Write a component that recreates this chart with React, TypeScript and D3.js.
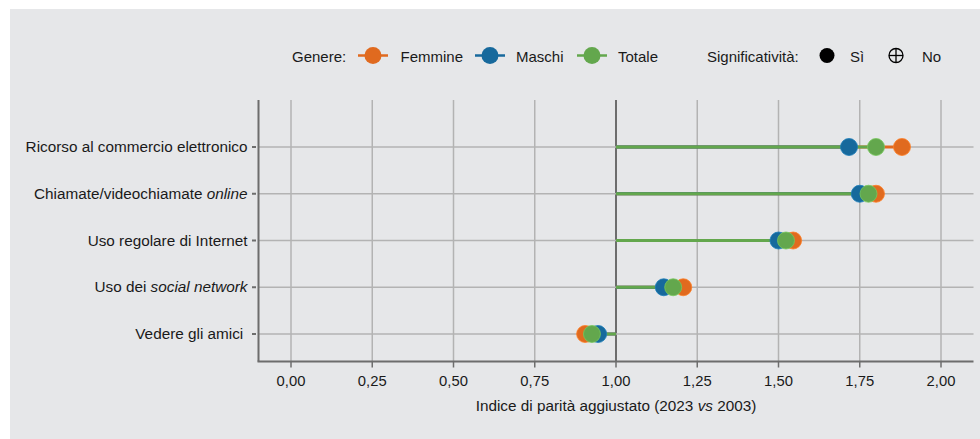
import React from "react";
import * as d3 from "d3";

// categories top -> bottom
const categories = [
  "Ricorso al commercio elettronico",
  "Chiamate/videochiamate online",
  "Uso regolare di Internet",
  "Uso dei social network",
  "Vedere gli amici",
];

// adjusted parity index, 2023 vs 2003
const femmine = [1.88, 1.8, 1.545, 1.207, 0.905];
const maschi = [1.717, 1.75, 1.5, 1.147, 0.945];
const totale = [1.8, 1.777, 1.523, 1.176, 0.926];

const xTicks = [0, 0.25, 0.5, 0.75, 1, 1.25, 1.5, 1.75, 2];

const series = [
  { name: "Femmine", values: femmine, color: "#e06a1f" },
  { name: "Maschi", values: maschi, color: "#17699c" },
  { name: "Totale", values: totale, color: "#63a74d" },
];

const font = "'Liberation Sans', Arial, sans-serif";

// label parts: [text, italic]
const labelParts: Record<string, [string, boolean][]> = {
  "Chiamate/videochiamate online": [["Chiamate/videochiamate ", false], ["online", true]],
  "Uso dei social network": [["Uso dei ", false], ["social network", true]],
  "Vedere gli amici": [["Vedere gli amici\u00a0", false]],
};

export default function App() {
  const W = 980;
  const H = 439;
  const left = 258.5;
  const right = 973.5;
  const top = 100;
  const bottom = 361.5;

  const x = d3.scaleLinear().domain([-0.1, 2.1]).range([left, right]);
  const y = d3.scalePoint<string>().domain(categories).range([147, 334]);
  const fmt = (v: number) => d3.format(".2f")(v).replace(".", ",");

  const grid = "#b3b3b3";
  const axisCol = "#6d6d6d";
  const r = 8.5;

  return (
    <svg
      width={W}
      height={H}
      style={{ position: "absolute", left: 0, top: 0 }}
      fontFamily={font}
    >
      <rect x={0} y={0} width={W} height={H} fill="#fff" />
      <rect x={10} y={9} width={W - 10} height={H - 9} fill="#e6e7e9" />

      {/* legend */}
      <g fontSize={15} fill="#1a1a1a">
        <text x={292} y={61.5}>Genere:</text>
        {series.map((s, i) => {
          const cx = [373, 490, 592][i];
          const tx = [400.5, 516, 618][i];
          return (
            <g key={s.name}>
              <line x1={cx - 15} x2={cx + 15} y1={55.5} y2={55.5} stroke={s.color} strokeWidth={2.5} />
              <circle cx={cx} cy={55.5} r={8.5} fill={s.color} />
              <text x={tx} y={61.5}>{s.name}</text>
            </g>
          );
        })}
        <text x={707} y={61.5}>Significatività:</text>
        <circle cx={827} cy={55.5} r={7.5} fill="#000" />
        <text x={850} y={61.5}>Sì</text>
        <circle cx={896} cy={55.5} r={7} fill="none" stroke="#000" strokeWidth={1.3} />
        <line x1={889} x2={903} y1={55.5} y2={55.5} stroke="#000" strokeWidth={1.3} />
        <line x1={896} x2={896} y1={48.5} y2={62.5} stroke="#000" strokeWidth={1.3} />
        <text x={922} y={61.5}>No</text>
      </g>

      {/* vertical grid */}
      {xTicks.map((t) => (
        <line
          key={t}
          x1={x(t)}
          x2={x(t)}
          y1={top}
          y2={bottom}
          stroke={t === 1 ? axisCol : grid}
          strokeWidth={t === 1 ? 2 : 1.5}
        />
      ))}
      {/* horizontal grid */}
      {categories.map((c) => (
        <line key={c} x1={left} x2={right} y1={y(c)} y2={y(c)} stroke={grid} strokeWidth={1.5} />
      ))}

      {/* axes */}
      <line x1={left} x2={left} y1={top} y2={bottom} stroke={axisCol} strokeWidth={2} />
      <line x1={left - 1} x2={right} y1={bottom} y2={bottom} stroke={axisCol} strokeWidth={2} />

      {/* x ticks */}
      <g fontSize={14.8} fill="#1a1a1a" textAnchor="middle">
        {xTicks.map((t) => (
          <g key={t}>
            <line x1={x(t)} x2={x(t)} y1={bottom} y2={bottom + 6} stroke={axisCol} strokeWidth={1.5} />
            <text x={x(t)} y={bottom + 24.5}>{fmt(t)}</text>
          </g>
        ))}
        <text x={x(1)} y={bottom + 49.5} fontSize={15.3}>
          Indice di parità aggiustato (2023 <tspan fontStyle="italic">vs</tspan> 2003)
        </text>
      </g>

      {/* y ticks and labels */}
      <g fontSize={15.3} fill="#1a1a1a" textAnchor="end">
        {categories.map((c) => (
          <g key={c}>
            <line x1={left - 6.5} x2={left - 2.5} y1={y(c)} y2={y(c)} stroke={axisCol} strokeWidth={2} />
            <text x={left - 11} y={(y(c) as number) + 5}>
              {labelParts[c]
                ? labelParts[c].map(([t, it], k) => (
                    <tspan key={k} fontStyle={it ? "italic" : "normal"}>{t}</tspan>
                  ))
                : c}
            </text>
          </g>
        ))}
      </g>

      {/* lollipop lines */}
      {series.map((s) => (
        <g key={s.name}>
          {s.values.map((v, i) => (
            <line
              key={i}
              x1={x(1)}
              x2={x(v)}
              y1={y(categories[i])}
              y2={y(categories[i])}
              stroke={s.color}
              strokeWidth={2.8}
            />
          ))}
        </g>
      ))}

      {/* points */}
      {series.map((s) => (
        <g key={s.name}>
          {s.values.map((v, i) => (
            <circle
              key={i}
              cx={x(v)}
              cy={y(categories[i])}
              r={r}
              fill={s.color}
              stroke={d3.color(s.color)!.brighter(0.5).formatHex()}
              strokeWidth={0.8}
            />
          ))}
        </g>
      ))}
    </svg>
  );
}
